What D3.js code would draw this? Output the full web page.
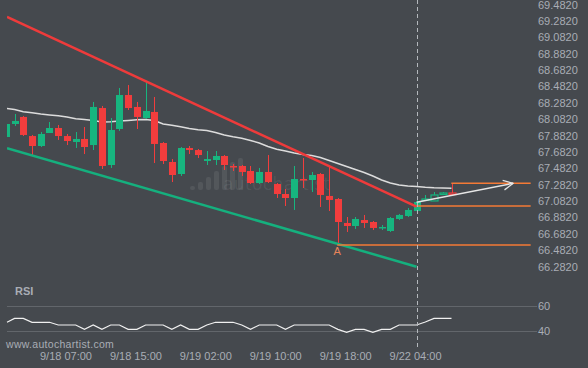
<!DOCTYPE html>
<html>
<head>
<meta charset="utf-8">
<script src="https://cdnjs.cloudflare.com/ajax/libs/d3/7.8.5/d3.min.js"></script>
<style>
  body { margin: 0; background: #45494e; }
  svg { display: block; }
  text { font-family: "Liberation Sans", Arial, sans-serif; }
</style>
</head>
<body>
<div id="vis"></div>
<script>
// hourly candles
var opens  = [67.866,68.025,68.111,67.878,67.756,67.915,67.976,67.878,67.805,67.842,
              67.768,68.220,67.524,67.964,68.379,68.233,68.098,68.172,67.793,67.561,
              67.414,67.732,67.707,67.573,67.585,67.634,67.512,67.512,67.451,67.304,
              67.439,67.292,67.170,67.121,67.353,67.341,67.414,67.146,67.109,66.816,
              66.779,66.852,66.828,66.755,66.718,66.865,66.901,66.962,67.097,67.085,
              67.170,67.182];
var highs  = [68.040,68.147,68.123,67.891,67.927,68.049,68.013,67.903,67.927,67.988,
              68.294,68.245,68.098,68.465,68.501,68.294,68.550,68.355,67.805,67.597,
              67.744,67.756,67.719,67.695,67.695,67.646,67.536,67.524,67.512,67.488,
              67.646,67.304,67.231,67.512,67.610,67.439,67.426,67.512,67.121,66.889,
              66.889,66.914,66.840,66.791,66.889,66.926,66.999,67.146,67.158,67.194,
              67.194,67.292];
var lows   = [67.850,68.001,67.878,67.646,67.744,67.915,67.830,67.768,67.732,67.658,
              67.707,67.475,67.488,67.940,68.196,67.964,68.086,67.548,67.536,67.316,
              67.390,67.658,67.610,67.524,67.524,67.463,67.451,67.390,67.292,67.292,
              67.304,67.121,67.023,66.975,67.243,67.194,67.011,66.962,66.547,66.706,
              66.743,66.755,66.730,66.730,66.706,66.852,66.889,66.962,67.085,67.085,
              67.158,67.170];
var closes = [68.025,68.062,67.891,67.756,67.903,67.976,67.878,67.817,67.842,67.744,
              68.233,67.512,67.952,68.379,68.220,68.111,68.184,67.781,67.573,67.402,
              67.732,67.707,67.646,67.597,67.634,67.524,67.500,67.439,67.304,67.439,
              67.316,67.170,67.121,67.353,67.341,67.402,67.158,67.097,66.828,66.779,
              66.865,66.816,66.755,66.767,66.877,66.914,66.975,67.072,67.109,67.158,
              67.182,67.170];
var maValues = [68.217,68.202,68.174,68.162,68.147,68.135,68.125,68.110,68.088,68.079,
                68.068,68.049,68.052,68.062,68.068,68.076,68.080,68.068,68.025,68.009,
                67.991,67.970,67.954,67.945,67.921,67.890,67.868,67.850,67.823,67.793,
                67.750,67.716,67.695,67.671,67.652,67.640,67.616,67.579,67.542,67.506,
                67.469,67.433,67.390,67.341,67.304,67.280,67.268,67.262,67.252,67.246,
                67.243,67.240];
var rsiValues = [46.8,50.0,50.0,46.8,46.8,46.8,44.6,44.6,44.6,41.1,
                 44.6,41.1,44.6,44.6,41.1,41.1,44.6,44.6,44.6,41.1,
                 44.6,41.1,41.1,44.6,46.8,46.8,46.8,44.6,41.1,44.6,
                 44.6,44.6,41.1,44.6,44.6,44.6,44.6,44.6,41.1,38.7,
                 41.1,41.1,38.7,41.1,41.1,44.6,44.6,44.6,47.0,50.0,
                 50.0,50.0];
var tickIndex  = [7, 15, 23, 31, 39, 47];
var tickLabels = ["9/18 07:00","9/18 15:00","9/19 02:00","9/19 10:00","9/19 18:00","9/22 04:00"];
var priceTicks = [69.482,69.282,69.082,68.882,68.682,68.482,68.282,68.082,67.882,67.682,
                  67.482,67.282,67.082,66.882,66.682,66.482,66.282];
var rsiTicks = [60, 40];

// pattern: [index, price]
var resistance = [[0.14, 69.332], [47, 67.015]];
var support    = [[0.14, 67.730], [47, 66.282]];
var breakoutIndex = 47;
var levels = [{from: 47, to: 60.06, price: 67.023},
              {from: 37.93, to: 60.06, price: 66.547},
              {from: 50.98, to: 60.06, price: 67.301}];
var forecast = [[47, 67.068], [58.07, 67.301]];
var pointA = {index: 37.93, price: 66.547, label: "A"};

var width = 588;
var height = 368;
var bg = "#45494e";
var up = "#17b57f";
var down = "#f23d3d";

var candles = opens.map(function(o, i) {
  return {i: i, o: o, h: highs[i], l: lows[i], c: closes[i]};
});

var svg = d3.select("#vis")
  .append("svg")
  .attr("width", width)
  .attr("height", height);

svg.append("rect").attr("width", width).attr("height", height).attr("fill", bg);

var x = d3.scaleLinear().domain([0, 51]).range([5.8, 451.5]);
var y = d3.scaleLinear().domain([66.282, 69.482]).range([266.7, 4.7]);
var yr = d3.scaleLinear().domain([40, 60]).range([330.7, 306]);

svg.append("clipPath").attr("id", "plot")
  .append("rect").attr("x", 7).attr("y", 0).attr("width", 530).attr("height", 290);

// watermark
var wm = svg.append("g").attr("fill", "#ffffff").attr("fill-opacity", 0.08);
[4, 8, 13, 19, 24, 28, 32].forEach(function(h, k) {
  wm.append("rect").attr("x", 190 + k * 8).attr("y", 190 - h)
    .attr("width", 5).attr("height", h).attr("rx", 2);
});
wm.append("text").attr("x", 223).attr("y", 190)
  .style("font-family", "DejaVu Sans, sans-serif")
  .attr("font-size", 17).attr("letter-spacing", 0.4).text("autochartist");

// price axis labels
svg.append("g").selectAll("text")
  .data(priceTicks)
  .enter()
  .append("text")
  .attr("x", 538)
  .attr("y", function(d) { return y(d); })
  .attr("dy", "0.35em")
  .attr("font-size", 11)
  .attr("fill", "#a9adb5")
  .text(function(d) { return d3.format(".4f")(d); });

var plot = svg.append("g").attr("clip-path", "url(#plot)");

var line = d3.line()
  .x(function(d) { return x(d[0]); })
  .y(function(d) { return y(d[1]); });

// moving average
plot.append("path")
  .datum(maValues.map(function(v, i) { return [i, v]; }))
  .attr("d", line)
  .attr("fill", "none")
  .attr("stroke", "#dcdcdc")
  .attr("stroke-width", 1.5);

// candles
var cg = plot.selectAll("g.candle")
  .data(candles)
  .enter()
  .append("g")
  .attr("class", "candle");

cg.append("line")
  .attr("x1", function(d) { return Math.round(x(d.i)) + 0.5; })
  .attr("x2", function(d) { return Math.round(x(d.i)) + 0.5; })
  .attr("y1", function(d) { return y(d.h); })
  .attr("y2", function(d) { return y(d.l); })
  .attr("stroke", function(d) { return d.c >= d.o ? up : down; })
  .attr("stroke-width", 1);

cg.append("rect")
  .attr("x", function(d) { return Math.round(x(d.i)) - 3; })
  .attr("width", 7)
  .attr("y", function(d) { return y(Math.max(d.o, d.c)); })
  .attr("height", function(d) { return Math.max(1.5, Math.abs(y(d.o) - y(d.c))); })
  .attr("fill", function(d) {
    if (d.i > breakoutIndex) return bg;
    return d.c >= d.o ? up : down;
  })
  .attr("stroke", function(d) {
    if (d.i > breakoutIndex) return d.c >= d.o ? up : down;
    return "none";
  })
  .attr("stroke-width", 1.2);

// trend lines
plot.append("path").datum(resistance).attr("d", line)
  .attr("stroke", "#ee3b3b").attr("stroke-width", 2.5).attr("fill", "none");
plot.append("path").datum(support).attr("d", line)
  .attr("stroke", "#15b07e").attr("stroke-width", 2.5).attr("fill", "none");

// levels
plot.selectAll("line.level")
  .data(levels)
  .enter()
  .append("line")
  .attr("class", "level")
  .attr("x1", function(d) { return x(d.from); })
  .attr("x2", function(d) { return x(d.to); })
  .attr("y1", function(d) { return y(d.price); })
  .attr("y2", function(d) { return y(d.price); })
  .attr("stroke", "#f47a36")
  .attr("stroke-width", 1.5);

// forecast arrow
var fa = forecast.map(function(p) { return [x(p[0]), y(p[1])]; });
plot.append("line")
  .attr("x1", fa[0][0]).attr("y1", fa[0][1])
  .attr("x2", fa[1][0]).attr("y2", fa[1][1])
  .attr("stroke", "#e6e6e6").attr("stroke-width", 1.5);
var ang = Math.atan2(fa[1][1] - fa[0][1], fa[1][0] - fa[0][0]);
[-0.45, 0.45].forEach(function(da) {
  plot.append("line")
    .attr("x1", fa[1][0]).attr("y1", fa[1][1])
    .attr("x2", fa[1][0] - 11 * Math.cos(ang + da))
    .attr("y2", fa[1][1] - 11 * Math.sin(ang + da))
    .attr("stroke", "#e6e6e6").attr("stroke-width", 1.3);
});

// point label
svg.append("text")
  .attr("x", x(pointA.index))
  .attr("y", y(pointA.price) + 10)
  .attr("text-anchor", "middle")
  .attr("font-size", 11)
  .attr("fill", "#e8855a")
  .text(pointA.label);

// RSI panel
svg.append("g").selectAll("line")
  .data(rsiTicks)
  .enter()
  .append("line")
  .attr("x1", 7).attr("x2", 537)
  .attr("y1", function(d) { return Math.round(yr(d)) + 0.5; })
  .attr("y2", function(d) { return Math.round(yr(d)) + 0.5; })
  .attr("stroke", "#62666b");

svg.append("g").selectAll("text")
  .data(rsiTicks)
  .enter()
  .append("text")
  .attr("x", 538)
  .attr("y", function(d) { return yr(d); })
  .attr("dy", "0.35em")
  .attr("font-size", 11)
  .attr("fill", "#a9adb5")
  .text(function(d) { return d; });

svg.append("path")
  .datum(rsiValues)
  .attr("d", d3.line()
    .x(function(d, i) { return Math.max(7, x(i)); })
    .y(function(d) { return yr(d); }))
  .attr("fill", "none")
  .attr("stroke", "#f0f0f0")
  .attr("stroke-width", 1.2);

svg.append("text")
  .attr("x", 15).attr("y", 291).attr("dy", "0.35em")
  .attr("font-size", 11).attr("font-weight", "bold")
  .attr("fill", "#a9adb5").text("RSI");

// breakout marker
svg.append("line")
  .attr("x1", Math.round(x(breakoutIndex)) + 0.5)
  .attr("x2", Math.round(x(breakoutIndex)) + 0.5)
  .attr("y1", 0).attr("y2", 350)
  .attr("stroke", "#b4b8bd")
  .attr("stroke-dasharray", "4,3");

// time axis
svg.append("g").selectAll("text")
  .data(tickIndex)
  .enter()
  .append("text")
  .attr("x", function(d) { return x(d) - 1; })
  .attr("y", 356)
  .attr("dy", "0.35em")
  .attr("text-anchor", "middle")
  .attr("font-size", 11)
  .attr("fill", "#a9adb5")
  .text(function(d, k) { return tickLabels[k]; });

svg.append("text")
  .attr("x", 6).attr("y", 344).attr("dy", "0.35em")
  .attr("font-size", 10.5).attr("letter-spacing", 0.3)
  .attr("fill", "#a9adb5").text("www.autochartist.com");
</script>
</body>
</html>
